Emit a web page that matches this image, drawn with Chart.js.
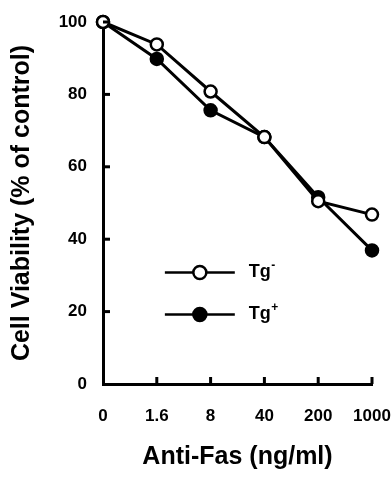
<!DOCTYPE html>
<html>
<head>
<meta charset="utf-8">
<script src="https://cdn.jsdelivr.net/npm/chart.js@4/dist/chart.umd.min.js"></script>
<style>
  html, body { margin: 0; padding: 0; background: #fff; }
  #wrap { width: 392px; height: 481px; position: relative; }
</style>
</head>
<body>
<div id="wrap"><canvas id="c"></canvas></div>
<script>
const categories = ['0', '1.6', '8', '40', '200', '1000'];
const tgMinus = [100, 93.8, 80.8, 68.2, 50.5, 46.8];
const tgPlus  = [100, 89.8, 75.6, 68.2, 51.6, 36.9];
const yTicks = [0, 20, 40, 60, 80, 100];
const seriesNames = ['Tg-', 'Tg+'];

const FONT = '"Liberation Sans", Arial, Helvetica, sans-serif';

const inwardTicks = {
  id: 'inwardTicks',
  afterDatasetsDraw(chart) {
    const ctx = chart.ctx;
    const xs = chart.scales.x, ys = chart.scales.y;
    const a = chart.chartArea;
    ctx.save();
    ctx.strokeStyle = '#000';
    ctx.lineWidth = 3;
    ys.ticks.forEach((t) => {
      if (t.value === 0) return;
      const y = ys.getPixelForValue(t.value);
      ctx.beginPath(); ctx.moveTo(a.left, y); ctx.lineTo(a.left + 7, y); ctx.stroke();
    });
    xs.ticks.forEach((t, i) => {
      if (i === 0) return;
      const x = xs.getPixelForTick(i);
      ctx.beginPath(); ctx.moveTo(x, a.bottom); ctx.lineTo(x, a.bottom - 7); ctx.stroke();
    });
    ctx.restore();
  }
};

const insideLegend = {
  id: 'insideLegend',
  afterDatasetsDraw(chart) {
    const ctx = chart.ctx;
    const xs = chart.scales.x, ys = chart.scales.y;
    const x0 = xs.getPixelForValue(1.15), x1 = xs.getPixelForValue(2.45);
    const xm = (x0 + x1) / 2;
    const rows = [30.8, 19.2];
    ctx.save();
    chart.data.datasets.forEach((ds, i) => {
      const y = ys.getPixelForValue(rows[i]);
      ctx.strokeStyle = '#000';
      ctx.lineWidth = 2.5;
      ctx.beginPath(); ctx.moveTo(x0, y); ctx.lineTo(x1, y); ctx.stroke();
      ctx.beginPath(); ctx.arc(xm, y, 6.5, 0, Math.PI * 2);
      ctx.fillStyle = ds.pointBackgroundColor; ctx.fill();
      ctx.lineWidth = 2.5; ctx.stroke();
      const name = ds.label;
      const base = name.slice(0, -1), sup = name.slice(-1);
      ctx.fillStyle = '#000';
      ctx.textBaseline = 'middle';
      ctx.textAlign = 'left';
      ctx.font = 'bold 18px ' + FONT;
      const tx = x1 + 14;
      ctx.fillText(base, tx, y);
      const w = ctx.measureText(base).width;
      ctx.font = 'bold 12px ' + FONT;
      ctx.fillText(sup, tx + w + 0.5, y - 7);
    });
    ctx.restore();
  }
};

new Chart(document.getElementById('c'), {
  type: 'line',
  data: {
    labels: categories,
    datasets: [
      { label: seriesNames[0], data: tgMinus, borderColor: '#000', borderWidth: 3,
        pointBackgroundColor: '#fff', pointBorderColor: '#000', pointBorderWidth: 2.5,
        pointRadius: 6, tension: 0, clip: false },
      { label: seriesNames[1], data: tgPlus, borderColor: '#000', borderWidth: 3,
        pointBackgroundColor: '#000', pointBorderColor: '#000', pointBorderWidth: 2.5,
        pointRadius: 6, tension: 0, clip: false }
    ]
  },
  options: {
    responsive: true,
    maintainAspectRatio: false,
    animation: false,
    devicePixelRatio: 1,
    layout: { padding: { top: 22, right: 20, left: 0, bottom: 0 } },
    plugins: { legend: { display: false }, tooltip: { enabled: false } },
    scales: {
      x: {
        type: 'category',
        offset: false,
        grid: { display: false, drawTicks: false },
        border: { display: true, width: 3, color: '#000' },
        ticks: { color: '#000', font: { family: FONT, size: 17, weight: 'bold' }, padding: 22, maxRotation: 0, autoSkip: false },
        title: { display: true, text: 'Anti-Fas (ng/ml)', color: '#000',
                 font: { family: FONT, size: 25, weight: 'bold' }, padding: { top: 0, bottom: 9 } },
        afterFit(s) { s.height = 97; s.paddingLeft = 0; s.paddingRight = 0; }
      },
      y: {
        min: 0, max: 100,
        grid: { display: false, drawTicks: false },
        border: { display: true, width: 3, color: '#000' },
        afterBuildTicks(s) { s.ticks = yTicks.map(v => ({ value: v })); },
        ticks: { color: '#000', font: { family: FONT, size: 17, weight: 'bold' }, padding: 16 },
        title: { display: true, text: 'Cell Viability (% of control)', color: '#000',
                 font: { family: FONT, size: 25, weight: 'bold' }, padding: { top: 7, bottom: 0 } },
        afterFit(s) { s.width = 103; s.paddingTop = 0; s.paddingBottom = 0; }
      }
    }
  },
  plugins: [inwardTicks, insideLegend]
});
</script>
</body>
</html>
